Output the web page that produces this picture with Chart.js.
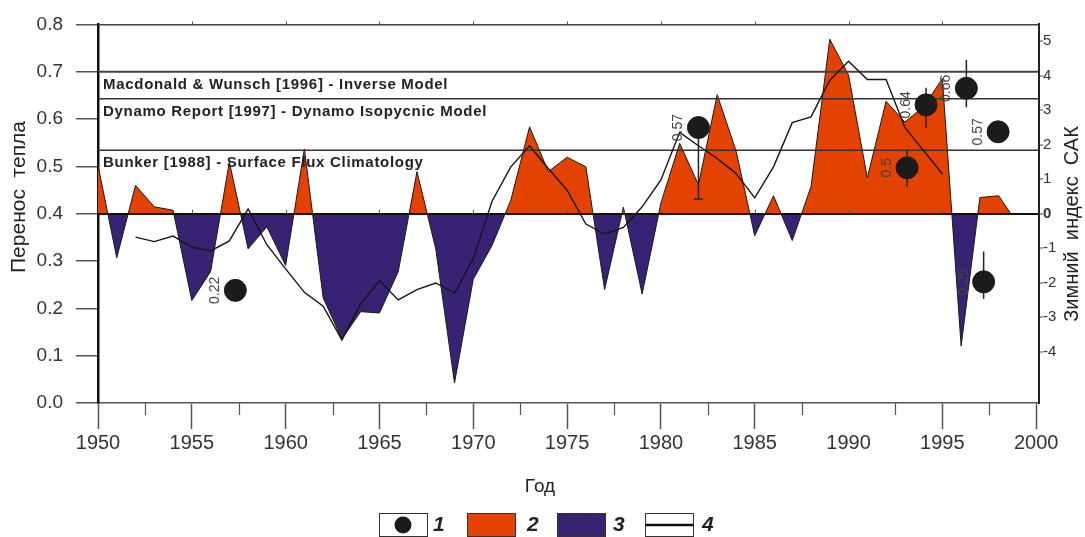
<!DOCTYPE html>
<html>
<head>
<meta charset="utf-8">
<script src="https://cdn.jsdelivr.net/npm/chart.js@4.4.0/dist/chart.umd.min.js"></script>
<style>
  html, body { margin: 0; padding: 0; background: #fff; }
  #wrap { width: 1085px; height: 537px; }
</style>
</head>
<body>
<div id="wrap"><canvas id="nao" width="1085" height="537"></canvas></div>
<script>
// winter NAO index, one value per year (right axis)
var naoYears = [1950, 1951, 1952, 1953, 1954, 1955, 1956, 1957, 1958, 1959,
    1960, 1961, 1962, 1963, 1964, 1965, 1966, 1967, 1968, 1969,
    1970, 1971, 1972, 1973, 1974, 1975, 1976, 1977, 1978, 1979,
    1980, 1981, 1982, 1983, 1984, 1985, 1986, 1987, 1988, 1989,
    1990, 1991, 1992, 1993, 1994, 1995, 1996, 1997, 1998, 1998.65];
var naoValues = [1.4, -1.28, 0.82, 0.2, 0.1, -2.52, -1.68, 1.5, -1.02, -0.38,
    -1.5, 1.88, -2.44, -3.63, -2.84, -2.88, -1.68, 1.22, -1.02, -4.91,
    -1.9, -0.92, 0.39, 2.52, 1.22, 1.64, 1.36, -2.2, 0.19, -2.33,
    0.31, 2.04, 0.84, 3.45, 1.83, -0.64, 0.52, -0.78, 0.79, 5.06,
    4.02, 1.04, 3.26, 2.66, 3.1, 3.92, -3.84, 0.47, 0.52, 0];

// curve 4 (right axis)
var curveYears = [1952, 1953, 1954, 1955, 1956, 1957, 1958, 1959, 1960, 1961,
    1962, 1963, 1964, 1965, 1966, 1967, 1968, 1969, 1970, 1971,
    1972, 1973, 1974, 1975, 1976, 1977, 1978, 1979, 1980, 1981,
    1982, 1983, 1984, 1985, 1986, 1987, 1988, 1989, 1990, 1991,
    1992, 1993, 1994, 1995];
var curveValues = [-0.68, -0.81, -0.65, -0.97, -1.08, -0.79, 0.14, -0.9, -1.6, -2.28,
    -2.68, -3.66, -2.61, -1.94, -2.5, -2.2, -2.01, -2.3, -1.3, 0.36,
    1.36, 1.97, 1.31, 0.68, -0.3, -0.59, -0.4, 0.2, 0.98, 2.36,
    1.97, 1.6, 1.17, 0.46, 1.36, 2.64, 2.81, 3.87, 4.42, 3.89,
    3.89, 2.5, 1.83, 1.15];

// heat transport estimates (left axis)
var dotYears  = [1957.32, 1982.0, 1993.12, 1994.13, 1996.28, 1997.97, 1997.2];
var dotValues = [0.238, 0.582, 0.497, 0.630, 0.665, 0.573, 0.256];
var dotLabels = ['0.22', '0.57', '0.5', '0.64', '0.66', '0.57', '0.25'];
var errLow    = [null, 0.431, 0.457, 0.581, 0.625, null, 0.22];
var errHigh   = [null, 0.59, 0.535, 0.666, 0.725, null, 0.32];

// model estimates (left axis)
var refValues = [0.70, 0.643, 0.534];
var refLabels = ['Macdonald & Wunsch [1996] - Inverse Model',
    'Dynamo Report [1997] - Dynamo Isopycnic Model',
    'Bunker [1988] - Surface Flux Climatology'];

var legendLabels = ['1', '2', '3', '4'];

var xMin = 1950, xMax = 2000.15;
var ORANGE = '#e34200';
var PURPLE = '#372274';
var FONT = '"Liberation Sans", Arial, sans-serif';

function pts(xs, ys) {
    return xs.map(function (x, i) { return {x: x, y: ys[i]}; });
}

var datasets = [
    {
        label: '1',
        data: pts(dotYears, dotValues),
        yAxisID: 'y',
        showLine: false,
        pointRadius: 11,
        pointBackgroundColor: '#1b1b1b',
        pointBorderColor: '#1b1b1b',
        order: 0
    },
    {
        label: '4',
        data: pts(curveYears, curveValues),
        yAxisID: 'y2',
        borderColor: '#151515',
        borderWidth: 1.4,
        pointRadius: 0,
        fill: false,
        tension: 0,
        order: 1
    }
];
refValues.forEach(function (v, i) {
    datasets.push({
        label: refLabels[i],
        data: [{x: xMin, y: v}, {x: xMax, y: v}],
        yAxisID: 'y',
        borderColor: i === 0 ? '#444' : '#333',
        borderWidth: i === 0 ? 1.8 : 1.4,
        pointRadius: 0,
        fill: false,
        order: 2
    });
});
datasets.push({
    label: '2/3',
    data: pts(naoYears, naoValues),
    yAxisID: 'y2',
    borderColor: '#1a1a1a',
    borderWidth: 1,
    pointRadius: 0,
    tension: 0,
    fill: {target: {value: 0}, above: ORANGE, below: PURPLE},
    order: 5
});

var extras = {
    id: 'extras',
    beforeDatasetDraw: function (chart, args) {
        if (args.index !== 0) return;
        var ctx = chart.ctx, xs = chart.scales.x, ys = chart.scales.y;
        ctx.save();
        ctx.strokeStyle = '#222';
        ctx.lineWidth = 1.5;
        dotYears.forEach(function (yr, i) {
            if (errLow[i] === null) return;
            var px = xs.getPixelForValue(yr);
            var lo = ys.getPixelForValue(errLow[i]);
            var hi = ys.getPixelForValue(errHigh[i]);
            ctx.beginPath();
            ctx.moveTo(px, lo);
            ctx.lineTo(px, hi);
            if (i === 1) {
                ctx.moveTo(px - 4.5, lo);
                ctx.lineTo(px + 4.5, lo);
            }
            ctx.stroke();
        });
        ctx.restore();
    },
    afterDatasetsDraw: function (chart) {
        var ctx = chart.ctx, xs = chart.scales.x, ys = chart.scales.y;
        var area = chart.chartArea;
        ctx.save();
        // value labels next to the dots
        ctx.fillStyle = '#444';
        ctx.font = '14px ' + FONT;
        ctx.textAlign = 'center';
        ctx.textBaseline = 'middle';
        dotYears.forEach(function (yr, i) {
            ctx.save();
            ctx.translate(xs.getPixelForValue(yr) - 20, ys.getPixelForValue(dotValues[i]));
            ctx.rotate(-Math.PI / 2);
            ctx.fillText(dotLabels[i], 0, 0);
            ctx.restore();
        });
        // model names under the reference lines
        ctx.fillStyle = '#222';
        ctx.font = 'bold 15px ' + FONT;
        ctx.letterSpacing = '0.7px';
        ctx.textAlign = 'left';
        refValues.forEach(function (v, i) {
            ctx.fillText(refLabels[i], area.left + 5, ys.getPixelForValue(v) + 13);
        });
        ctx.letterSpacing = '0px';
        // small ticks on top frame and on the zero line
        ctx.strokeStyle = '#555';
        ctx.lineWidth = 1;
        var zero = chart.scales.y2.getPixelForValue(0);
        for (var yr = 1955; yr < 2000; yr += 5) {
            var px = Math.round(xs.getPixelForValue(yr)) + 0.5;
            ctx.beginPath();
            ctx.moveTo(px, area.top);
            ctx.lineTo(px, area.top - 3);
            ctx.moveTo(px, zero);
            ctx.lineTo(px, zero - 4);
            ctx.stroke();
        }
        ctx.restore();
    },
    afterDraw: function (chart) {
        var ctx = chart.ctx, xs = chart.scales.x, area = chart.chartArea;
        ctx.save();
        // minor ticks on the year axis
        ctx.strokeStyle = '#555';
        ctx.lineWidth = 1.2;
        for (var yr = 1952.5; yr < 2000; yr += 5) {
            var px = Math.round(xs.getPixelForValue(yr)) + 0.5;
            ctx.beginPath();
            ctx.moveTo(px, area.bottom);
            ctx.lineTo(px, area.bottom + 12);
            ctx.stroke();
        }
        // axis titles
        ctx.fillStyle = '#222';
        ctx.textAlign = 'center';
        ctx.textBaseline = 'middle';
        ctx.font = '19px ' + FONT;
        ctx.fillText('Год', 540, 487);
        ctx.save();
        ctx.translate(19.5, 197);
        ctx.rotate(-Math.PI / 2);
        ctx.font = '21px ' + FONT;
        ctx.fillText('Перенос  тепла', 0, 0);
        ctx.restore();
        ctx.save();
        ctx.translate(1072, 224);
        ctx.rotate(-Math.PI / 2);
        ctx.font = '20px ' + FONT;
        ctx.fillText('Зимний  индекс  САК', 0, 0);
        ctx.restore();

        // legend
        var boxes = [379, 467, 557, 645];
        var textX = [433, 527, 613, 702];
        var by = 513, bw = 48, bh = 23;
        boxes.forEach(function (bx, i) {
            ctx.fillStyle = i === 1 ? ORANGE : (i === 2 ? PURPLE : '#fff');
            ctx.fillRect(bx, by, bw, bh);
            ctx.strokeStyle = '#333';
            ctx.lineWidth = 1;
            ctx.strokeRect(bx + 0.5, by + 0.5, bw, bh);
            if (i === 0) {
                ctx.fillStyle = '#1b1b1b';
                ctx.beginPath();
                ctx.arc(bx + 24, by + 12, 8.5, 0, Math.PI * 2);
                ctx.fill();
            }
            if (i === 3) {
                ctx.strokeStyle = '#111';
                ctx.lineWidth = 2.5;
                ctx.beginPath();
                ctx.moveTo(bx, by + 12);
                ctx.lineTo(bx + bw, by + 12);
                ctx.stroke();
            }
            ctx.fillStyle = '#222';
            ctx.font = 'italic bold 21px ' + FONT;
            ctx.textAlign = 'left';
            ctx.fillText(legendLabels[i], textX[i], by + 12);
        });
        ctx.restore();
    }
};

var chart = new Chart(document.getElementById('nao'), {
    type: 'line',
    data: {datasets: datasets},
    plugins: [extras],
    options: {
        responsive: false,
        animation: false,
        layout: {padding: {top: 17, left: 0, right: 0, bottom: 0}},
        plugins: {legend: {display: false}, tooltip: {enabled: false}},
        scales: {
            x: {
                type: 'linear',
                min: xMin,
                max: xMax,
                afterFit: function (s) { s.height = 134; },
                border: {display: true, color: '#555', width: 1.5},
                grid: {
                    drawOnChartArea: false,
                    tickLength: 26,
                    tickWidth: 1.5,
                    tickColor: function (c) { return c.tick && c.tick.value === 1990 ? 'rgba(0,0,0,0)' : '#555'; }
                },
                ticks: {
                    stepSize: 5,
                    includeBounds: false,
                    maxRotation: 0,
                    padding: 2,
                    color: '#333',
                    font: {family: FONT, size: 20},
                    callback: function (v) { return String(v); }
                }
            },
            y: {
                position: 'left',
                min: 0,
                max: 0.8,
                afterFit: function (s) { s.width = 98; },
                border: {display: true, color: '#111', width: 2.5},
                grid: {
                    drawOnChartArea: true,
                    color: function (c) { return c.tick && c.tick.value === 0.8 ? '#444' : 'rgba(0,0,0,0)'; },
                    lineWidth: 1.5,
                    tickLength: 22,
                    tickColor: '#555',
                    tickWidth: 1.5
                },
                ticks: {
                    stepSize: 0.1,
                    padding: 13,
                    color: '#333',
                    font: {family: FONT, size: 19},
                    callback: function (v) { return v.toFixed(1); }
                }
            },
            y2: {
                position: 'right',
                min: -5.49,
                max: 5.49,
                afterFit: function (s) { s.width = 46; },
                afterBuildTicks: function (s) {
                    s.ticks = s.ticks.filter(function (t) { return t.value >= -4 && t.value <= 5; });
                },
                border: {display: true, color: '#222', width: 2, z: 1},
                grid: {
                    z: 1,
                    drawOnChartArea: true,
                    color: function (c) { return c.tick && c.tick.value === 0 ? '#111' : 'rgba(0,0,0,0)'; },
                    lineWidth: 2,
                    tickLength: 4,
                    tickColor: '#444',
                    tickWidth: 1
                },
                ticks: {
                    stepSize: 1,
                    includeBounds: false,
                    padding: 0,
                    color: '#333',
                    font: function (c) {
                        return {family: FONT, size: 15, weight: c.tick && c.tick.value === 0 ? 'bold' : 'normal'};
                    }
                }
            }
        }
    }
});
</script>
</body>
</html>
